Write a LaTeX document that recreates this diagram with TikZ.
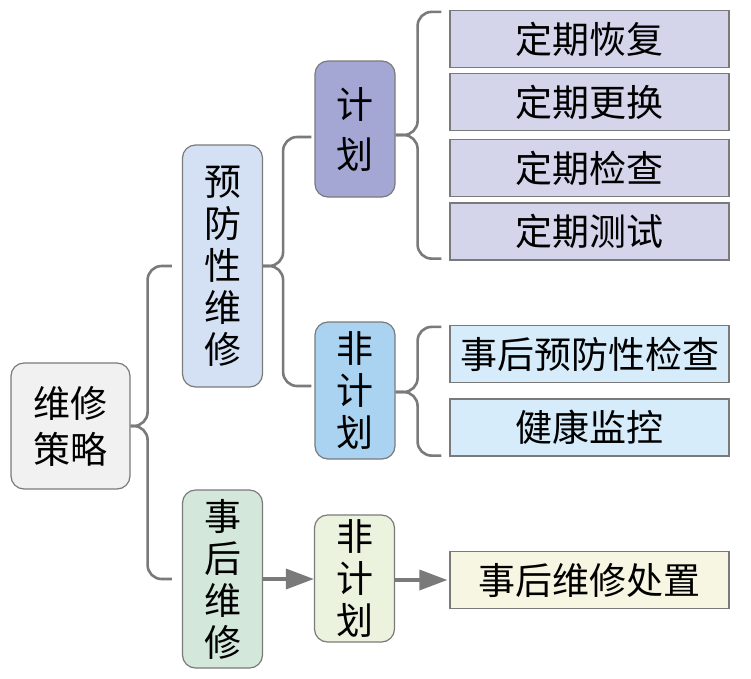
\documentclass[tikz,border=0pt]{standalone}
\usepackage{fontspec}
\setmainfont{Noto Sans CJK SC}
\usetikzlibrary{arrows.meta}
\tikzset{>=latex}
\definecolor{linegray}{HTML}{7A7A7A}
\definecolor{rootgray}{HTML}{F1F1F1}
\definecolor{prevblue}{HTML}{D4E1F4}
\definecolor{corrgreen}{HTML}{D3E8DB}
\definecolor{planpurple}{HTML}{A4A7D4}
\definecolor{unplanblue}{HTML}{A9D3F1}
\definecolor{unplangreen}{HTML}{EBF2DD}
\definecolor{leafpurple}{HTML}{D4D4EB}
\definecolor{leafblue}{HTML}{D6ECFA}
\definecolor{leafyellow}{HTML}{F6F6E2}
\tikzstyle{box}=[draw=linegray, line width=1.2, rounded corners=13, inner sep=0,
  minimum width=80, align=center, font=\fontsize{37}{42}\selectfont]
\tikzstyle{leaf}=[draw=linegray, line width=1.2, inner sep=0, minimum width=279,
  minimum height=57, font=\fontsize{37}{42}\selectfont]
\tikzstyle{brace}=[linegray, line width=2.6, rounded corners=14]
\tikzstyle{flow}=[-{Triangle[length=28,width=20]}, linegray, line width=3.5]

\begin{document}
\begin{tikzpicture}[x=1pt,y=-1pt]
  \useasboundingbox (0,0) rectangle (751,678);

  % LEVEL 1
  \node[box, fill=rootgray, minimum width=119, minimum height=126, font=\fontsize{37}{46}\selectfont] (root) at (70.5,426) {维修\\策略};

  % LEVEL 2
  \node[box, fill=prevblue, minimum height=242] (prev) at (222.5,266) {预\\防\\性\\维\\修};
  \node[box, fill=corrgreen, minimum height=178] (corr) at (222.5,579) {事\\后\\维\\修};

  % LEVEL 3
  \node[box, fill=planpurple, minimum height=136, font=\fontsize{37}{50}\selectfont] (plan) at (355,129) {计\\划};
  \node[box, fill=unplanblue, minimum height=137] (unplanA) at (355,390.5) {非\\计\\划};
  \node[box, fill=unplangreen, minimum height=127] (unplanB) at (354.5,578.5) {非\\计\\划};

  % LEVEL 4
  \node[leaf, fill=leafpurple] (restore) at (589.5,39) {定期恢复};
  \node[leaf, fill=leafpurple] (replace) at (589.5,102) {定期更换};
  \node[leaf, fill=leafpurple] (inspect) at (589.5,168) {定期检查};
  \node[leaf, fill=leafpurple] (test) at (589.5,231.5) {定期测试};
  \node[leaf, fill=leafblue] (postcheck) at (589.5,354) {事后预防性检查};
  \node[leaf, fill=leafblue] (health) at (589.5,427.5) {健康监控};
  \node[leaf, fill=leafyellow] (repair) at (589.5,580) {事后维修处置};

  % BRACES
  \draw[brace] ([xshift=-10]prev.west) -| ([xshift=17]root.east) -- (root.east);
  \draw[brace] ([xshift=-10]corr.west) -| ([xshift=17]root.east) -- (root.east);
  \draw[brace] ([xshift=-3,yshift=-8]plan.west) -| ([xshift=20]prev.east) -- (prev.east);
  \draw[brace] ([xshift=-3,yshift=4.5]unplanA.west) -| ([xshift=20]prev.east) -- (prev.east);
  \draw[brace] ([xshift=-8,yshift=-2]restore.north west) -| ([xshift=22,yshift=-6]plan.east) -- ([yshift=-6]plan.east);
  \draw[brace] ([xshift=-8,yshift=2]test.south west) -| ([xshift=22,yshift=-6]plan.east) -- ([yshift=-6]plan.east);
  \draw[brace] ([xshift=-8,yshift=-2]postcheck.north west) -| ([xshift=22,yshift=-1.5]unplanA.east) -- ([yshift=-1.5]unplanA.east);
  \draw[brace] ([xshift=-8,yshift=1]health.south west) -| ([xshift=22,yshift=-1.5]unplanA.east) -- ([yshift=-1.5]unplanA.east);

  % ARROWS
  \draw[flow] (corr.east) -- (unplanB.west |- corr.east);
  \draw[flow] (unplanB.east |- repair.west) -- ([xshift=-2]repair.west);
\end{tikzpicture}
\end{document}
